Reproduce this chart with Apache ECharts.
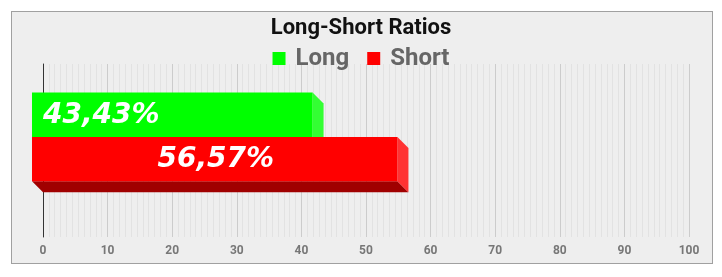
<!DOCTYPE html>
<html><head><meta charset="utf-8">
<script src="https://cdn.jsdelivr.net/npm/echarts@6/dist/echarts.min.js"></script>
<style>
html,body{margin:0;padding:0;background:#fff;}
#box{position:absolute;left:11px;top:11px;width:700px;height:251px;border:1.5px solid #a0a0a0;background:#eeeeee;}
#c{position:absolute;left:0;top:0;width:722px;height:277px;}
</style>
</head><body><div id="box"></div><div id="c"></div>
<script>
// ---- data ----
const chartTitle = 'Long-Short Ratios';
const seriesNames = ['Long', 'Short'];
const seriesValues = [43.43, 56.57];
const axisMin = 0;
const axisMax = 100;
const axisStep = 10;

// ---- styles ----
const frontColors = ['#00ff00', '#ff0000'];
const sideColors = ['#33ff33', '#ff3333'];
const bottomColors = ['#00a000', '#a00000'];
const labelAligns = ['left', 'center'];
const bandTopOffsets = [-58, -13.6];

const DEPTH = 11, BAR_H = 44.4;

function fmt(v) { return v.toFixed(2).replace('.', ',') + '%'; }

function makeRender(idx) {
  return function (params, api) {
    const v = api.value(0);
    const p0 = api.coord([0, 0]);
    const p1 = api.coord([v, 0]);
    const xl = p0[0] - DEPTH, xr = p1[0] - DEPTH;
    const yt = p0[1] + bandTopOffsets[idx], yb = yt + BAR_H;
    const D = DEPTH;
    const tx = labelAligns[idx] === 'left' ? xl + 11 : (xl + xr) / 2 + 1;
    return {
      type: 'group',
      children: [
        { type: 'polygon', shape: { points: [[xl, yb], [xr, yb], [xr + D, yb + D], [xl + D, yb + D]] }, style: { fill: bottomColors[idx] } },
        { type: 'polygon', shape: { points: [[xr, yt], [xr + D, yt + D], [xr + D, yb + D], [xr, yb]] }, style: { fill: sideColors[idx] } },
        { type: 'rect', shape: { x: xl, y: yt, width: xr - xl, height: BAR_H }, style: { fill: frontColors[idx] } },
        { type: 'text', x: tx, y: yt + BAR_H / 2 + 1, style: {
            text: fmt(v), fill: '#ffffff', align: labelAligns[idx], verticalAlign: 'middle',
            font: 'italic bold 28px "DejaVu Sans"' } }
      ]
    };
  };
}

const chart = echarts.init(document.getElementById('c'), null, { renderer: 'canvas' });
chart.setOption({
  backgroundColor: 'transparent',
  animation: false,
  title: {
    text: chartTitle, left: 'center', top: 17.5, padding: 0,
    textStyle: { fontFamily: 'Roboto', fontWeight: 'bold', fontSize: 22, color: '#111111' }
  },
  legend: {
    data: seriesNames, left: 'center', top: 46.5, padding: 0,
    itemWidth: 13, itemHeight: 13, itemGap: 18, icon: 'rect',
    textStyle: { fontFamily: 'Roboto', fontWeight: 'bold', fontSize: 24, lineHeight: 24, color: '#666666', padding: [0, 0, 0, 5] }
  },
  grid: { left: 43, right: 33, top: 64, bottom: 40, containLabel: false },
  xAxis: {
    type: 'value', min: axisMin, max: axisMax, interval: axisStep,
    axisLine: { show: false }, axisTick: { show: false },
    axisLabel: { color: '#777777', fontFamily: 'Roboto', fontWeight: 'bold', fontSize: 12, margin: 8 },
    splitLine: { show: true, lineStyle: { color: '#cccccc', width: 1 } },
    minorTick: { show: false, splitNumber: 11 },
    minorSplitLine: { show: true, lineStyle: { color: '#e2e2e2', width: 1 } }
  },
  yAxis: {
    type: 'category', data: [''],
    axisLine: { show: true, lineStyle: { color: '#333333', width: 1 } },
    axisTick: { show: false }, axisLabel: { show: false }, splitLine: { show: false }
  },
  series: seriesNames.map((name, i) => ({
    type: 'custom', name: name,
    itemStyle: { color: frontColors[i] },
    renderItem: makeRender(i),
    clip: false,
    encode: { x: 0, y: 1 },
    data: [[seriesValues[i], 0]],
    z: 2 + i
  }))
});
</script>
</body></html>
